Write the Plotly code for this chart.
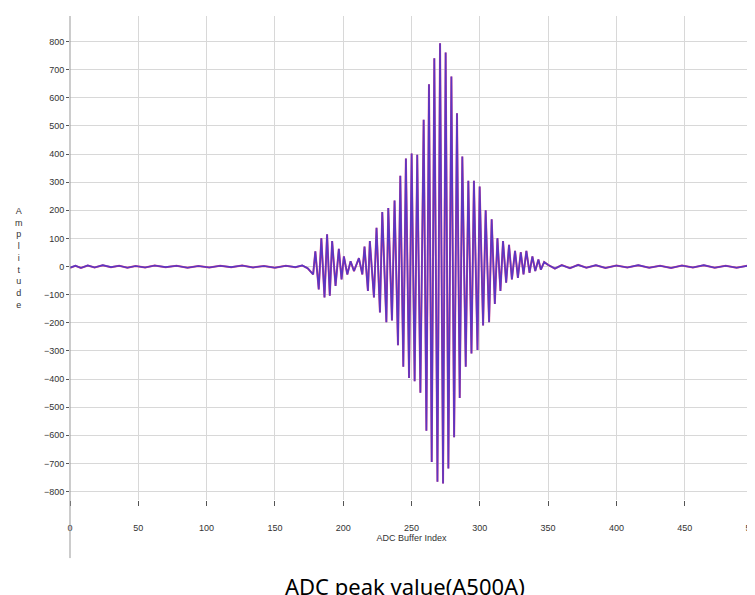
import plotly.graph_objects as go

pos_x = [179.6, 184.0, 188.2, 191.9, 196.8, 200.5, 205.4, 211.5, 215.6, 219.5, 224.4, 228.6,
         233.0, 237.6, 241.8, 245.9, 250.1, 254.2, 258.9, 262.8, 266.7, 270.9, 275.0, 279.2,
         283.3, 287.2, 291.6, 295.7, 299.9, 304.3, 308.7, 312.9, 317.0, 321.4, 325.8, 330.0,
         334.1, 338.5, 342.9, 347.1]
pos_y = [54, 101, 115, 91, 63, 36, 19, 30, 71, 91, 138, 194,
         208, 235, 323, 384, 402, 398, 522, 648, 741, 794, 761, 676,
         545, 391, 305, 305, 285, 200, 168, 101, 91, 77, 56, 51,
         56, 36, 25, 16]
neg_x = [178.0, 182.1, 186.3, 190.2, 194.4, 198.8, 203.0, 207.9, 214.0, 218.1, 222.5, 226.9,
         231.6, 235.7, 240.1, 244.0, 248.2, 252.3, 256.5, 260.9, 264.8, 269.0, 273.1, 277.0,
         281.2, 285.3, 289.7, 293.9, 298.3, 302.4, 306.8, 311.0, 315.1, 319.3, 323.5, 327.9,
         332.0, 336.4, 340.6, 344.7]
neg_y = [-28, -81, -110, -104, -69, -46, -28, -16, -28, -87, -110, -163,
         -198, -192, -280, -356, -396, -408, -449, -584, -695, -765, -771, -718,
         -607, -467, -356, -309, -297, -209, -198, -133, -87, -57, -46, -40,
         -28, -22, -16, -11]

# quiet baseline before and after the burst
pre_x = [0, 4, 8, 13, 18, 24, 30, 36, 42, 48, 55, 62, 70, 78, 86, 94, 102, 110, 118, 126,
         134, 142, 150, 158, 165, 170, 174]
pre_y = [-4, 3, -5, 4, -3, 5, -2, 3, -4, 2, -3, 4, -2, 3, -4, 2, -3, 3, -2, 4, -3, 2, -4, 3,
         -2, 4, -6]
post_x = [350, 355, 360, 366, 372, 378, 385, 392, 400, 408, 416, 424, 432, 440, 448, 456,
          464, 472, 480, 488, 496, 500]
post_y = [6, -7, 5, -6, 6, -4, 5, -5, 4, -3, 5, -4, 3, -5, 4, -3, 5, -4, 3, -4, 3, -2]

peaks = sorted(list(zip(pos_x, pos_y)) + list(zip(neg_x, neg_y)))
xs = pre_x + [p[0] for p in peaks] + post_x
ys = pre_y + [p[1] for p in peaks] + post_y

x_ticks = list(range(0, 501, 50))
y_ticks = list(range(-800, 801, 100))

fig = go.Figure()
fig.add_trace(go.Scatter(x=xs, y=ys, mode="lines", line=dict(color="#e0407a", width=2.0)))
fig.add_trace(go.Scatter(x=xs, y=ys, mode="lines", opacity=0.8,
                         line=dict(color="#3b34d6", width=1.6)))

fig.update_layout(
    width=755, height=595, showlegend=False,
    plot_bgcolor="white", paper_bgcolor="white",
    margin=dict(l=62, r=10, t=8, b=103, autoexpand=False),
    font=dict(family="Liberation Sans, Arial", size=9, color="#333"),
    xaxis=dict(range=[0, 500], tickvals=x_ticks, showgrid=True, gridcolor="#d8d8d8",
               zeroline=False, ticks="outside", ticklen=5, tickcolor="#555",
               ticklabelstandoff=14, automargin=False,
               title=dict(text="ADC Buffer Index", font=dict(size=9), standoff=2)),
    yaxis=dict(range=[-830, 891], tickvals=y_ticks, showgrid=True, gridcolor="#d8d8d8",
               zeroline=False, ticks="outside", ticklen=3, tickcolor="#555",
               automargin=False),
    shapes=[
        dict(type="line", xref="paper", yref="paper", x0=0, x1=0, y0=-0.12, y1=1,
             line=dict(color="#999", width=1)),
        dict(type="line", xref="paper", yref="paper", x0=1, x1=1, y0=-0.12, y1=1,
             line=dict(color="#ccc", width=1)),
    ],
    annotations=[
        dict(text="<br>".join("Amplitude"), xref="paper", yref="paper", x=-0.083, y=0.5,
             showarrow=False, font=dict(size=9), align="center"),
        dict(text="ADC peak value(A500A)", xref="paper", yref="paper", x=0.49, y=-0.178,
             yanchor="middle", showarrow=False,
             font=dict(family="Noto Sans", size=22, color="black")),
    ],
)

fig.write_html("out.html")
